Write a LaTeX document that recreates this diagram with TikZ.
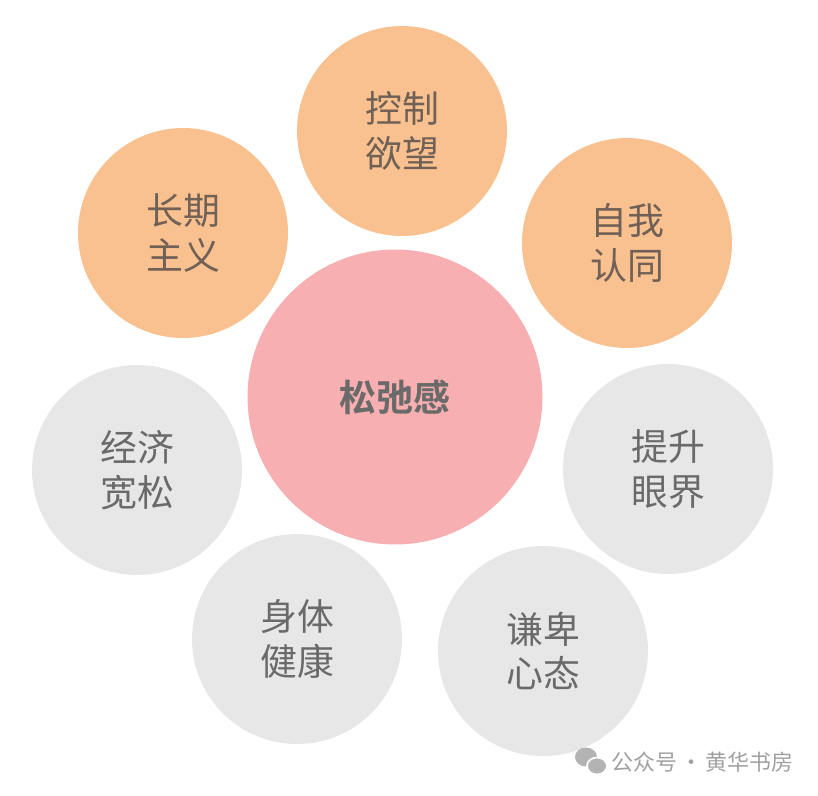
\documentclass[tikz,border=0pt]{standalone}
\usepackage{fontspec}
\newfontfamily\cjk{Noto Sans CJK SC}[BoldFont={Noto Sans CJK SC Bold}]
\usetikzlibrary{positioning}
\definecolor{warmFill}{RGB}{249,193,143}
\definecolor{coreFill}{RGB}{248,175,177}
\definecolor{greyFill}{RGB}{231,231,231}
\definecolor{warmText}{RGB}{112,96,86}
\definecolor{greyText}{RGB}{106,106,106}
\definecolor{markText}{RGB}{160,160,160}
\tikzset{
    petal/.style={
        circle, minimum size=4.2cm, inner sep=0pt, align=center,
        font=\cjk\fontsize{21pt}{25.5pt}\selectfont,
    },
    warmpetal/.style={petal, fill=warmFill, text=warmText},
    greypetal/.style={petal, fill=greyFill, text=greyText},
    corecircle/.style={
        circle, minimum size=5.9cm, inner sep=0pt, fill=coreFill,
        text=greyText, font=\cjk\bfseries\fontsize{21pt}{25pt}\selectfont,
    },
    watermark/.style={
        font=\cjk\fontsize{12.5pt}{15pt}\selectfont, text=markText,
        inner sep=0pt, anchor=west,
    },
}

\begin{document}
\begin{tikzpicture}[x=0.02cm, y=-0.02cm]
% canvas
\useasboundingbox (0,0) rectangle (818,795);

% centre
\node[corecircle] (core) at (395,397) {松弛感};

% upper (warm) petals
\node[warmpetal] (ctrl) at (402,131) {控制\\欲望};
\node[warmpetal] (long) at (183,233) {长期\\主义};
\node[warmpetal] (self) at (627,243) {自我\\认同};

% lower (grey) petals
\node[greypetal] (econ) at (137,470) {经济\\宽松};
\node[greypetal] (view) at (668,469) {提升\\眼界};
\node[greypetal] (body) at (297,639) {身体\\健康};
\node[greypetal] (mind) at (543,651) {谦卑\\心态};

% watermark
\fill[markText!80] (586,757) ellipse (11 and 9.5);
\fill[markText!80, draw=white, line width=1pt] (597,766) ellipse (10 and 8.5);
\node[watermark] (mark) at (611,762)
    {公众号\hspace{0.06cm}·\hspace{0.06cm}黄华书房};

\end{tikzpicture}
\end{document}
